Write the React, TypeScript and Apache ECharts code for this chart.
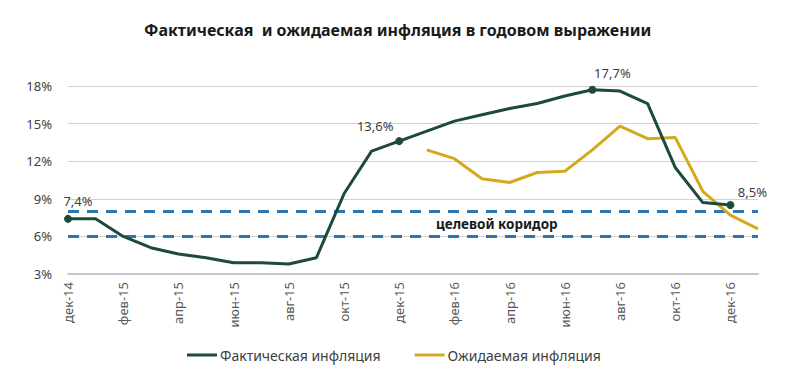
import React, { useEffect, useRef } from "react";
import * as echarts from "echarts";

const categories = [
  "дек-14", "янв-15", "фев-15", "мар-15", "апр-15", "май-15", "июн-15", "июл-15",
  "авг-15", "сен-15", "окт-15", "ноя-15", "дек-15", "янв-16", "фев-16", "мар-16",
  "апр-16", "май-16", "июн-16", "июл-16", "авг-16", "сен-16", "окт-16", "ноя-16",
  "дек-16", "янв-17",
];

const actual: (number | null)[] = [
  7.4, 7.4, 6.0, 5.1, 4.6, 4.3, 3.9, 3.9, 3.8, 4.3, 9.4, 12.8, 13.6, 14.4, 15.2,
  15.7, 16.2, 16.6, 17.2, 17.7, 17.6, 16.6, 11.5, 8.7, 8.5, null,
];

const expected: (number | null)[] = [
  null, null, null, null, null, null, null, null, null, null, null, null, null,
  12.9, 12.2, 10.6, 10.3, 11.1, 11.2, 12.9, 14.8, 13.8, 13.9, 9.6, 7.7, 6.6,
];

// labelled points: index -> label text, label offset
const labelled: Record<number, { text: string; offset: number[] }> = {
  0: { text: "7,4%", offset: [10, -2] },
  12: { text: "13,6%", offset: [-24, 0] },
  19: { text: "17,7%", offset: [20, -1] },
  24: { text: "8,5%", offset: [22, 2] },
};

const corridor = [8, 6];
const yTicks = { min: 3, max: 18, step: 3 };

const DARK = "#1d4a3a";
const YELLOW = "#d4a91c";
const BLUE = "#2e75b6";
const FONT = "'Noto Sans', 'Open Sans', sans-serif";

export default function App() {
  const ref = useRef<HTMLDivElement>(null);
  useEffect(() => {
    if (!ref.current) return;
    const chart = echarts.init(ref.current, null, { renderer: "svg" });
    const actualData = actual.map((v, i) => {
      const l = labelled[i];
      if (!l) return v;
      return {
        value: v,
        symbol: "circle",
        symbolSize: 8,
        label: {
          show: true,
          position: "top",
          offset: l.offset,
          formatter: l.text,
          color: "#404040",
          fontSize: 13,
          fontFamily: FONT,
        },
      };
    });
    chart.setOption({
      animation: false,
      textStyle: { fontFamily: FONT },
      title: {
        text: "Фактическая  и ожидаемая инфляция в годовом выражении",
        left: 139,
        top: 17,
        textStyle: { fontSize: 16, fontWeight: "bold", color: "#1a1a1a", fontFamily: FONT },
      },
      grid: { left: 68, right: 42, top: 86, bottom: 108 },
      legend: {
        bottom: 15,
        left: 182,
        icon: "rect",
        itemWidth: 30,
        itemHeight: 3,
        itemGap: 34,
        textStyle: { fontSize: 14, color: "#404040", fontFamily: FONT, padding: [0, 0, 0, -2] },
        data: ["Фактическая инфляция", "Ожидаемая инфляция"],
      },
      xAxis: {
        type: "category",
        data: categories,
        boundaryGap: false,
        axisLine: { lineStyle: { color: "#c8c8c8", width: 2 } },
        axisTick: { show: false },
        axisLabel: {
          interval: 1,
          rotate: 90,
          fontSize: 13,
          color: "#595959",
          margin: 8,
        },
      },
      yAxis: {
        type: "value",
        min: yTicks.min,
        max: yTicks.max,
        interval: yTicks.step,
        axisLine: { show: false },
        axisTick: { show: false },
        axisLabel: { formatter: "{value}%", fontSize: 13, color: "#404040", margin: 16 },
        splitLine: { lineStyle: { color: "#d0d0d0", width: 1 } },
      },
      graphic: [
        {
          type: "text",
          left: 436,
          top: 217,
          style: {
            text: "целевой коридор",
            font: `bold 13.5px ${FONT}`,
            fill: "#1a1a1a",
          },
        },
      ],
      series: [
        {
          name: "Фактическая инфляция",
          type: "line",
          data: actualData,
          showSymbol: true,
          symbol: "none",
          itemStyle: { color: DARK },
          lineStyle: { color: DARK, width: 3 },
          connectNulls: false,
          z: 3,
          markLine: {
            silent: true,
            symbol: "none",
            label: { show: false },
            lineStyle: { color: BLUE, width: 3, type: [11, 8] },
            data: corridor.map((v) => ({ yAxis: v })),
            z: 1,
          },
        },
        {
          name: "Ожидаемая инфляция",
          type: "line",
          data: expected,
          symbol: "none",
          itemStyle: { color: YELLOW },
          lineStyle: { color: YELLOW, width: 3 },
          z: 2,
        },
      ],
    });
    return () => chart.dispose();
  }, []);
  return <div ref={ref} style={{ width: 800, height: 382, margin: -8 }} />;
}
